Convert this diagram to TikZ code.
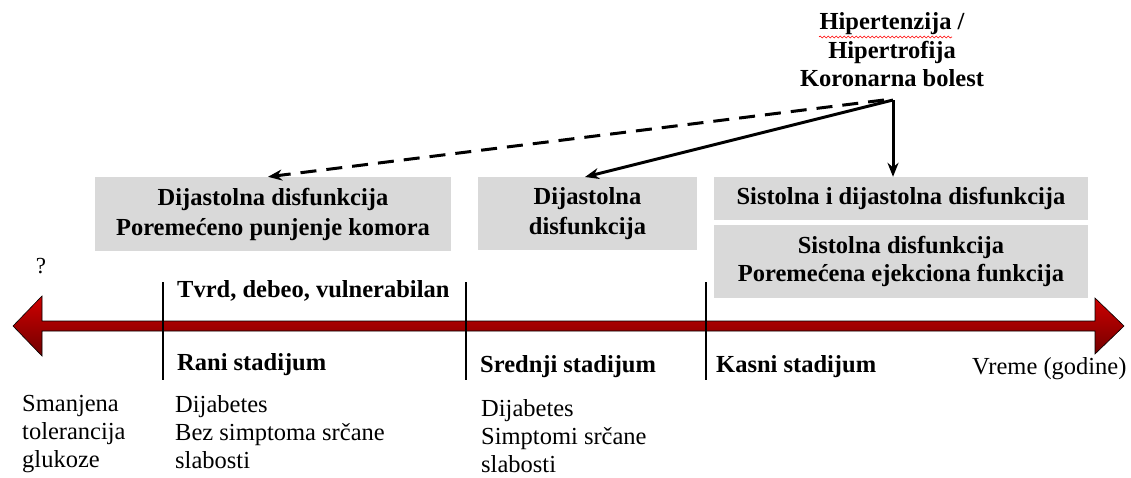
\documentclass[tikz,border=0pt]{standalone}
\usepackage{fontspec}
\setmainfont{Liberation Serif}
\usetikzlibrary{arrows.meta,decorations.pathmorphing}
\definecolor{boxgray}{HTML}{D9D9D9}
\definecolor{arrtop}{HTML}{D00000}
\definecolor{arrbot}{HTML}{700000}
\begin{document}
\begin{tikzpicture}[x=1pt,y=-1pt,
  gbox/.style={fill=boxgray,draw=none,inner sep=0pt,align=center,font=\fontsize{24.5}{30}\selectfont\bfseries},
  lbl/.style={inner sep=0pt,anchor=west,font=\fontsize{24.5}{28}\selectfont\bfseries},
  plain/.style={inner sep=0pt,anchor=north west,align=left,font=\fontsize{24.5}{28}\selectfont},
  tick/.style={line width=1.8pt},
  conn/.style={line width=3pt,-{Stealth[length=14pt,width=11pt]}}]
\useasboundingbox (0,0) rectangle (1131,477);
% timeline arrow
\shade[top color=arrtop,bottom color=arrbot,draw=black,line width=0.6pt]
  (13,326) -- (42,296) -- (42,321) -- (1095,321) -- (1095,298) -- (1124,326)
  -- (1095,354) -- (1095,331) -- (42,331) -- (42,356) -- cycle;
% ticks
\draw[tick] (163,282) -- (163,380);
\draw[tick] (466,282) -- (466,380);
\draw[tick] (706,282) -- (706,380);
% boxes
\node[gbox,minimum width=356pt,minimum height=74pt] (b1) at (273,214) {Dijastolna disfunkcija\\Poremećeno punjenje komora};
\node[gbox,minimum width=219pt,minimum height=73pt] (b2) at (587.5,213.5) {Dijastolna\\disfunkcija};
\node[gbox,minimum width=374pt,minimum height=43pt] (b3) at (901,198.5) {Sistolna i dijastolna disfunkcija};
\node[gbox,minimum width=374pt,minimum height=73pt,font=\fontsize{24.5}{28.5}\selectfont\bfseries] (b4) at (901,261.5) {Sistolna disfunkcija\\Poremećena ejekciona funkcija};
% top text
\node[align=center,inner sep=0pt,font=\fontsize{24.5}{28.5}\selectfont\bfseries] (hyp) at (892,50) {Hipertenzija /\\Hipertrofija\\Koronarna bolest};
\draw[red,line width=0.6pt,decorate,decoration={snake,amplitude=1pt,segment length=4pt}] (819,37) -- (952,37);
\coordinate (src) at (893,100);
\draw[conn,dashed,dash pattern=on 16pt off 10pt] (884,100) -- (b1.north -| 268,0) ;
\draw[conn] (src) -- (585,177);
\draw[conn] (src) -- (b3.north -| src);
% labels
\node[inner sep=0pt,font=\fontsize{23}{26}\selectfont] (q) at (41,266) {?};
\node[lbl] (tvrd) at (177,291) {Tvrd, debeo, vulnerabilan};
\node[lbl] (rani) at (177,365) {Rani stadijum};
\node[lbl] (sred) at (480,367) {Srednji stadijum};
\node[lbl] (kasni) at (716,367) {Kasni stadijum};
\node[inner sep=0pt,anchor=west,font=\fontsize{24.5}{28}\selectfont] (vreme) at (972,369) {Vreme (godine)};
\node[plain] (t1) at (22,395) {Smanjena\\tolerancija\\glukoze};
\node[plain] (t2) at (175,395) {Dijabetes\\Bez simptoma srčane\\slabosti};
\node[plain] (t3) at (481,399) {Dijabetes\\Simptomi srčane\\slabosti};
\end{tikzpicture}
\end{document}
